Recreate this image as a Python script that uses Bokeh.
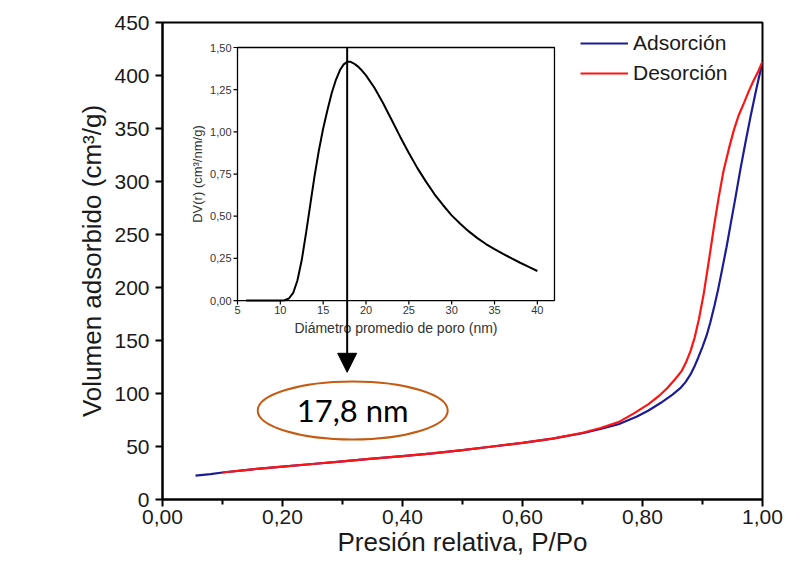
from math import pi
from bokeh.plotting import figure
from bokeh.models import (Range1d, FixedTicker, Legend, LegendItem, Label, Arrow,
                          NormalHead)
from bokeh.core.properties import value
from bokeh.embed import file_html
from bokeh.resources import INLINE

# ---------------- data ----------------
p_ads = [0.055, 0.08, 0.10, 0.15, 0.20, 0.25, 0.30, 0.35, 0.40, 0.45, 0.50, 0.55, 0.60,
         0.65, 0.70, 0.73, 0.76, 0.79, 0.81, 0.83, 0.85, 0.863, 0.872, 0.88, 0.887, 0.893,
         0.90, 0.907, 0.913, 0.92, 0.926, 0.932, 0.94, 0.947, 0.955, 0.963, 0.972,
         0.98, 0.99, 1.0]
v_ads = [22.5, 24, 25.5, 28.5, 31, 33.5, 36, 38.5, 41, 43.5, 46.5, 50, 53.5,
         57.5, 62.5, 66.5, 71, 78, 84, 91, 99, 105, 111, 118, 126, 134,
         144, 155, 167, 183, 198, 215, 238, 260, 285, 311, 338,
         361, 388, 413]

p_des = [0.10, 0.15, 0.20, 0.25, 0.30, 0.35, 0.40, 0.45, 0.50, 0.55, 0.60, 0.65, 0.70,
         0.73, 0.76, 0.785, 0.81, 0.83, 0.841, 0.855, 0.865, 0.873, 0.88, 0.887, 0.894,
         0.902, 0.91, 0.919, 0.927, 0.935, 0.944, 0.952, 0.96, 0.969, 0.977, 0.985,
         0.993, 1.0]
v_des = [25.5, 28.5, 31, 33.5, 36, 38.5, 41, 43.5, 46.5, 50, 53.5, 57.5, 63,
         67.5, 73, 81, 90, 99, 105, 114, 121, 130, 140, 153, 170,
         194, 223, 257, 285, 310, 331, 348, 362, 374, 385, 395,
         404, 413]

pore_d = [6, 8, 10, 10.5, 11, 11.5, 12, 12.5, 13, 13.5, 14, 14.5, 15, 15.5, 16, 16.5,
          17, 17.4, 17.8, 18.2, 18.6, 19, 19.5, 20, 21, 22, 23, 24, 25, 26, 27, 28, 29,
          30, 31, 32, 33, 34, 35, 36, 37, 38, 39, 40]
pore_dv = [0, 0, 0, 0.002, 0.012, 0.045, 0.12, 0.24, 0.40, 0.57, 0.74, 0.89, 1.02, 1.13,
           1.23, 1.31, 1.37, 1.40, 1.415, 1.415, 1.405, 1.39, 1.365, 1.335, 1.26, 1.17,
           1.07, 0.97, 0.875, 0.785, 0.705, 0.63, 0.565, 0.505, 0.455, 0.41, 0.37, 0.335,
           0.305, 0.277, 0.25, 0.224, 0.199, 0.175]
peak_d = 17.8
peak_label = "17,8 nm"

x_ticks = [0.0, 0.2, 0.4, 0.6, 0.8, 1.0]
x_tick_labels = ["0,00", "0,20", "0,40", "0,60", "0,80", "1,00"]
x_minor = [0.1, 0.3, 0.5, 0.7, 0.9]
y_ticks = [0, 50, 100, 150, 200, 250, 300, 350, 400, 450]
y_tick_labels = ["0", "50", "100", "150", "200", "250", "300", "350", "400", "450"]

in_x_ticks = [5, 10, 15, 20, 25, 30, 35, 40]
in_x_tick_labels = ["5", "10", "15", "20", "25", "30", "35", "40"]
in_y_ticks = [0.0, 0.25, 0.5, 0.75, 1.0, 1.25, 1.5]
in_y_tick_labels = ["0,00", "0,25", "0,50", "0,75", "1,00", "1,25", "1,50"]

# ---------------- layout settings ----------------
FONT = value("Liberation Sans")
X_RANGE = (0.0, 1.0)
Y_RANGE = (0.0, 450.0)
IN_X = (5.0, 42.0)
IN_Y = (0.0, 1.5)
IN_BOX_X = (0.125, 0.6533)     # inset frame in main x units
IN_BOX_Y = (187.7, 426.4)      # inset frame in main y units


def extra_range(lo, hi, box_lo, box_hi, main_lo, main_hi):
    s = (hi - lo) / (box_hi - box_lo)
    return Range1d(lo + (main_lo - box_lo) * s, lo + (main_hi - box_lo) * s)


p = figure(width=787, height=564, output_backend="svg", toolbar_location=None,
           x_range=Range1d(*X_RANGE), y_range=Range1d(*Y_RANGE),
           min_border_left=162, min_border_right=25, min_border_top=22,
           min_border_bottom=65)
p.grid.visible = False
p.outline_line_color = "black"
p.outline_line_width = 2
p.outline_line_alpha = 1
p.background_fill_color = "white"
p.border_fill_color = "white"

p.extra_x_ranges = {"ix": extra_range(*IN_X, *IN_BOX_X, *X_RANGE)}
p.extra_y_ranges = {"iy": extra_range(*IN_Y, *IN_BOX_Y, *Y_RANGE)}

# main axes
xa = p.xaxis[0]
xa.ticker = FixedTicker(ticks=x_ticks, minor_ticks=x_minor)
xa.major_label_overrides = dict(zip(x_ticks, x_tick_labels))
ya = p.yaxis[0]
ya.ticker = FixedTicker(ticks=y_ticks, minor_ticks=[])
ya.major_label_overrides = dict(zip(y_ticks, y_tick_labels))
for ax in (xa, ya):
    ax.axis_line_width = 2
    ax.axis_line_color = "black"
    ax.major_tick_line_width = 2
    ax.major_tick_line_color = "black"
    ax.minor_tick_line_width = 2
    ax.minor_tick_line_color = "black"
    ax.major_tick_in = 0
    ax.major_tick_out = 7
    ax.minor_tick_in = 0
    ax.minor_tick_out = 5
    ax.major_label_text_font = "Liberation Sans"
    ax.major_label_text_font_size = "21px"
    ax.major_label_text_color = "#1a1a1a"
    ax.axis_label_text_font = "Liberation Sans"
    ax.axis_label_text_font_size = "26px"
    ax.axis_label_text_font_style = "normal"
    ax.axis_label_text_color = "#1a1a1a"
xa.axis_label = "Presión relativa, P/Po"
ya.axis_label = "Volumen adsorbido (cm³/g)"
xa.major_label_standoff = 3
xa.axis_label_standoff = 0
ya.major_label_standoff = 6
ya.axis_label_standoff = 4

# main curves
r_ads = p.line(p_ads, v_ads, line_color="#1c1c96", line_width=2.2)
r_des = p.line(p_des, v_des, line_color="#ff1414", line_width=2.2)

legend = Legend(items=[LegendItem(label="Adsorción", renderers=[r_ads]),
                       LegendItem(label="Desorción", renderers=[r_des])],
                location=(418, 414), border_line_color=None,
                background_fill_alpha=0, padding=0, margin=0, spacing=6,
                glyph_width=48, glyph_height=20, label_height=20, label_standoff=5,
                label_text_font="Liberation Sans", label_text_font_size="21px",
                label_text_color="#1a1a1a")
p.add_layout(legend)

# ---------------- inset ----------------
kw = dict(x_range_name="ix", y_range_name="iy")
p.quad(left=[IN_X[0]], right=[IN_X[1]], bottom=[IN_Y[0]], top=[IN_Y[1]],
       fill_color="white", line_color="black", line_width=1.3, **kw)
p.line(pore_d, pore_dv, line_color="black", line_width=2, **kw)

# inset ticks
p.ray(x=in_x_ticks, y=[IN_Y[0]] * len(in_x_ticks), length=4, length_units="screen",
      angle=-pi / 2, line_color="black", line_width=1.2, **kw)
p.ray(x=[IN_X[0]] * len(in_y_ticks), y=in_y_ticks, length=4, length_units="screen",
      angle=pi, line_color="black", line_width=1.2, **kw)
p.text(x=in_x_ticks, y=[IN_Y[0]] * len(in_x_ticks), text=in_x_tick_labels,
       y_offset=5, text_align="center", text_baseline="top", text_font=FONT,
       text_font_size="11px", text_color="#333333", **kw)
p.text(x=[IN_X[0]] * len(in_y_ticks), y=in_y_ticks, text=in_y_tick_labels,
       x_offset=-6, text_align="right", text_baseline="middle", text_font=FONT,
       text_font_size="11px", text_color="#333333", **kw)
p.add_layout(Label(x=(IN_X[0] + IN_X[1]) / 2, y=IN_Y[0], y_offset=-19,
                   text="Diámetro promedio de poro (nm)", text_align="center",
                   text_baseline="top", text_font="Liberation Sans",
                   text_font_size="14px", text_color="#333333", **kw))
p.add_layout(Label(x=IN_X[0], y=(IN_Y[0] + IN_Y[1]) / 2, x_offset=-40, angle=pi / 2,
                   text="DV(r) (cm³/nm/g)", text_align="center",
                   text_baseline="middle", text_font="Liberation Sans",
                   text_font_size="13px", text_color="#333333", **kw))

# arrow from peak down to the annotation
x_peak_main = IN_BOX_X[0] + (peak_d - IN_X[0]) / (IN_X[1] - IN_X[0]) * (IN_BOX_X[1] - IN_BOX_X[0])
p.add_layout(Arrow(end=NormalHead(size=19, fill_color="black", line_color="black"),
                   x_start=x_peak_main, y_start=IN_BOX_Y[1], x_end=x_peak_main, y_end=120,
                   line_color="black", line_width=2))

# ellipse annotation
ell_x, ell_y = 0.317, 84
p.ellipse(x=[ell_x], y=[ell_y], width=190, height=58, width_units="screen",
          height_units="screen", fill_color=None, line_color="#c55a11", line_width=2)
p.text(x=[ell_x], y=[ell_y], text=[peak_label], text_align="center",
       text_baseline="middle", text_font=value("Lato"), text_font_size="31px",
       text_color="black")

# panel letter
p.add_layout(Label(x=-0.25, y=428, text="a)", text_align="left", text_baseline="middle",
                   text_font="Liberation Sans", text_font_size="20px",
                   text_font_style="bold", text_color="black"))

open("out.html", "w").write(file_html(p, INLINE))
